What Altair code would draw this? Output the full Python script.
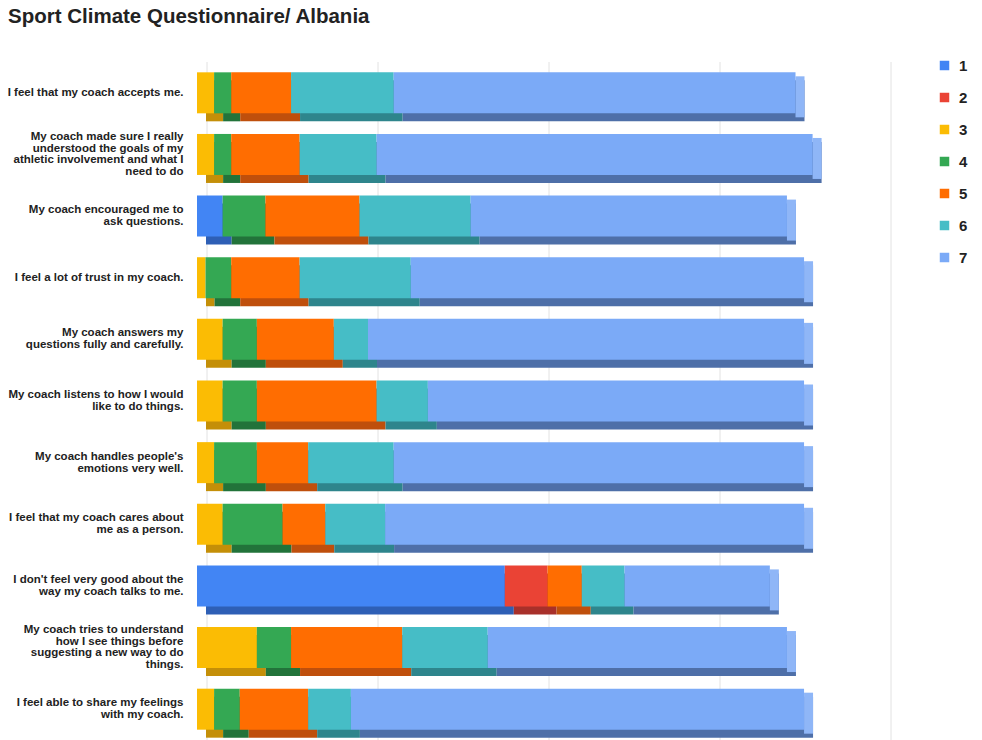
import altair as alt
import pandas as pd

questions = [
    "I feel that my coach accepts me.",
    "My coach made sure I really|understood the goals of my|athletic involvement and what I|need to do",
    "My coach encouraged me to|ask questions.",
    "I feel a lot of trust in my coach.",
    "My coach answers my|questions fully and carefully.",
    "My coach listens to how I would|like to do things.",
    "My coach handles people's|emotions very well.",
    "I feel that my coach cares about|me as a person.",
    "I don't feel very good about the|way my coach talks to me.",
    "My coach tries to understand|how I see things before|suggesting a new way to do|things.",
    "I feel able to share my feelings|with my coach.",
]
levels = ["1", "2", "3", "4", "5", "6", "7"]
counts_1 = [0, 0, 3, 0, 0, 0, 0, 0, 36, 0, 0]
counts_2 = [0, 0, 0, 0, 0, 0, 0, 0, 5, 0, 0]
counts_3 = [2, 2, 0, 1, 3, 3, 2, 3, 0, 7, 2]
counts_4 = [2, 2, 5, 3, 4, 4, 5, 7, 0, 4, 3]
counts_5 = [7, 8, 11, 8, 9, 14, 6, 5, 4, 13, 8]
counts_6 = [12, 9, 13, 13, 4, 6, 10, 7, 5, 10, 5]
counts_7 = [47, 51, 37, 46, 51, 44, 48, 49, 17, 35, 53]
grid_values = [0, 20, 40, 60, 80]

colors = ["#4285F4", "#EA4335", "#FBBC04", "#34A853", "#FF6D01", "#46BDC6", "#7BAAF7"]
dark_colors = ["#2E5FB5", "#A8302A", "#C48F08", "#22733A", "#BF4F0C", "#2E858C", "#4E6FA8"]
cap_color = "#8FB6F7"

all_counts = [counts_1, counts_2, counts_3, counts_4, counts_5, counts_6, counts_7]
rows = []
for qi, q in enumerate(questions):
    start = 0
    for li, lvl in enumerate(levels):
        c = all_counts[li][qi]
        if c > 0:
            rows.append({"question": q, "level": lvl, "count": c,
                         "start": start, "end": start + c,
                         "dark": dark_colors[li], "order": li})
            start += c
df = pd.DataFrame(rows)
ends = df[df["level"] == "7"].copy()
ends["cap"] = cap_color
grid_df = pd.DataFrame({"g": grid_values})

LINE_H = 11.8
x_scale = alt.Scale(domain=[0, 80], nice=False, zero=True)
y_scale = alt.Scale(domain=questions, paddingInner=0.0, paddingOuter=0.0)
y_axis = alt.Axis(title=None, ticks=False, domain=False,
                  labelExpr="split(datum.label, '|')",
                  labelFont="Liberation Sans", labelFontSize=11.5,
                  labelFontWeight="bold", labelColor="#222222",
                  labelPadding=14, labelLimit=220, labelLineHeight=LINE_H,
                  labelOffset={"condition": [
                      {"test": "length(split(datum.label, '|')) == 4", "value": -1.5 * LINE_H},
                      {"test": "length(split(datum.label, '|')) == 3", "value": -1.0 * LINE_H},
                      {"test": "length(split(datum.label, '|')) == 2", "value": -0.5 * LINE_H},
                  ], "value": 0})


def y_enc():
    return alt.Y("question:N", scale=y_scale, sort=questions, axis=y_axis)


grid = alt.Chart(grid_df).mark_rule(color="#e2e2e2", strokeWidth=1, xOffset=10).encode(
    x=alt.X("g:Q", scale=x_scale, axis=None)
)

shadow = alt.Chart(df).mark_bar(size=41, xOffset=9, x2Offset=9, yOffset=8, y2Offset=8).encode(
    y=y_enc(),
    x=alt.X("start:Q", scale=x_scale, axis=None),
    x2="end:Q",
    color=alt.Color("dark:N", scale=None),
)

cap = alt.Chart(ends).mark_bar(size=41, x2Offset=9, yOffset=4, y2Offset=4).encode(
    y=y_enc(),
    x=alt.X("end:Q", scale=x_scale, axis=None),
    x2="end:Q",
    color=alt.Color("cap:N", scale=None),
)

front = alt.Chart(df).mark_bar(size=41).encode(
    y=y_enc(),
    x=alt.X("start:Q", scale=x_scale, axis=None),
    x2="end:Q",
    color=alt.Color("level:N", scale=alt.Scale(domain=levels, range=colors),
                    legend=alt.Legend(title=None, orient="none", legendX=740, legendY=-4,
                                      symbolType="square", symbolSize=90,
                                      symbolStrokeWidth=0, labelFont="Liberation Sans",
                                      labelFontSize=15, labelFontWeight="bold",
                                      labelColor="#222222", rowPadding=16, padding=0,
                                      labelOffset=7)),
    order=alt.Order("order:Q"),
)

chart = alt.layer(grid, shadow, cap, front).properties(
    width=684, height=678,
    padding={"left": 197, "top": 62, "right": 101, "bottom": 0},
    autosize=alt.AutoSizeParams(type="none"),
    title=alt.Title("Sport Climate Questionnaire/ Albania", anchor="start", frame="group",
                    font="Liberation Sans", fontSize=20.5, fontWeight="bold",
                    color="#222222", dx=-189, offset=31),
).configure_view(stroke=None)

chart.save("out.html", embed_options={"renderer": "svg", "actions": False})
